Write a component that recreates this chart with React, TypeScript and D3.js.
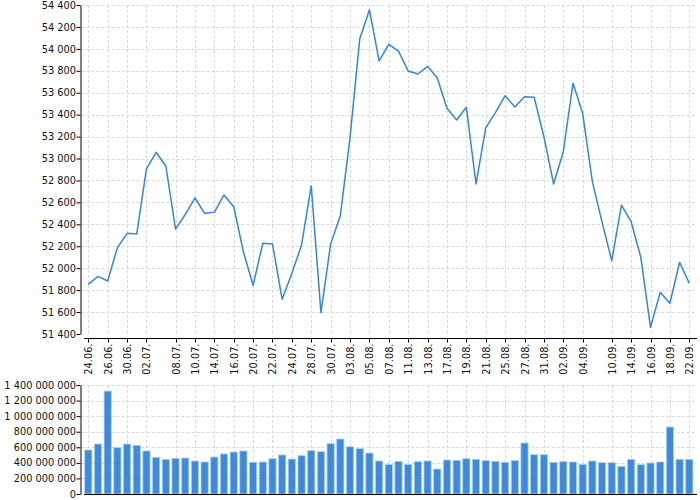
import React, { useEffect, useRef } from 'react';
import * as d3 from 'd3';

// trading days (only some of them are labelled on the axis)
const dates = [
  '24.06.', '25.06.', '26.06.', '28.06.', '30.06.', '01.07.', '02.07.', '04.07.', '06.07.', '08.07.',
  '09.07.', '10.07.', '12.07.', '14.07.', '15.07.', '16.07.', '18.07.', '20.07.', '21.07.', '22.07.',
  '23.07.', '24.07.', '26.07.', '28.07.', '29.07.', '30.07.', '01.08.', '03.08.', '04.08.', '05.08.',
  '06.08.', '07.08.', '09.08.', '11.08.', '12.08.', '13.08.', '15.08.', '17.08.', '18.08.', '19.08.',
  '20.08.', '21.08.', '23.08.', '25.08.', '26.08.', '27.08.', '29.08.', '31.08.', '01.09.', '02.09.',
  '03.09.', '04.09.', '06.09.', '08.09.', '10.09.', '12.09.', '14.09.', '15.09.', '16.09.', '17.09.',
  '18.09.', '20.09.', '22.09.',
];

const tickLabels = [
  '24.06.', '26.06.', '30.06.', '02.07.', '08.07.', '10.07.', '14.07.', '16.07.', '20.07.', '22.07.',
  '24.07.', '28.07.', '30.07.', '03.08.', '05.08.', '07.08.', '11.08.', '13.08.', '17.08.', '19.08.',
  '21.08.', '25.08.', '27.08.', '31.08.', '02.09.', '04.09.', '10.09.', '14.09.', '16.09.', '18.09.',
  '22.09.',
];

const prices = [
  51853, 51926, 51883, 52187, 52318, 52312, 52905, 53057, 52932, 52357,
  52490, 52640, 52500, 52510, 52668, 52561, 52150, 51844, 52227, 52221,
  51716, 51954, 52212, 52750, 51594, 52221, 52479, 53190, 54090, 54355,
  53890, 54042, 53980, 53798, 53771, 53841, 53734, 53458, 53351, 53467,
  52768, 53279, 53418, 53573, 53470, 53564, 53558, 53199, 52768, 53062,
  53686, 53412, 52790, 52420, 52068, 52576, 52424, 52099, 51461, 51780,
  51680, 52054, 51862,
];

const volumes = [
  565e6, 642e6, 1322e6, 595e6, 642e6, 625e6, 552e6, 471e6, 445e6, 458e6,
  462e6, 424e6, 411e6, 475e6, 514e6, 539e6, 552e6, 407e6, 411e6, 453e6,
  501e6, 449e6, 492e6, 556e6, 543e6, 646e6, 706e6, 607e6, 582e6, 526e6,
  424e6, 381e6, 420e6, 381e6, 415e6, 424e6, 321e6, 437e6, 432e6, 453e6,
  445e6, 428e6, 420e6, 407e6, 428e6, 655e6, 505e6, 505e6, 407e6, 415e6,
  411e6, 381e6, 424e6, 402e6, 402e6, 356e6, 445e6, 376e6, 398e6, 411e6,
  860e6, 445e6, 445e6,
];

const priceTicks = d3.range(51400, 54401, 200);
const volumeTicks = d3.range(0, 1400000001, 200000000);

const fmt = d3.formatLocale({ decimal: ',', thousands: '\u00a0', grouping: [3], currency: ['', ''] }).format(',d');

const App: React.FC = () => {
  const svgRef = useRef<SVGSVGElement>(null);

  useEffect(() => {
    if (!svgRef.current) return;
    const svg = d3.select(svgRef.current);
    svg.selectAll('*').remove();

    const left = 80.5;
    const gridRight = 695;
    const axisRight = 697;

    const x = d3.scalePoint<string>().domain(dates).range([88.3, 689.3]);
    const yTop = d3.scaleLinear().domain([51400, 54400]).range([334, 5]);
    const yBot = d3.scaleLinear().domain([0, 1400000000]).range([494, 385]);

    const font = '"DejaVu Sans", sans-serif';
    const gridColor = '#d9d9d9';
    const blue = '#3585d8';

    const grid = (g: any, y: d3.ScaleLinear<number, number>, ticks: number[]) => {
      const [y0, y1] = [y.range()[1], y.range()[0]];
      g.selectAll('line.h')
        .data(ticks.slice(1))
        .join('line')
        .attr('x1', left + 1).attr('x2', gridRight)
        .attr('y1', (d: number) => Math.round(y(d)) + 0.5)
        .attr('y2', (d: number) => Math.round(y(d)) + 0.5);
      g.selectAll('line.v')
        .data(tickLabels)
        .join('line')
        .attr('class', 'v')
        .attr('x1', (d: string) => Math.round(x(d)!) + 0.5)
        .attr('x2', (d: string) => Math.round(x(d)!) + 0.5)
        .attr('y1', y0).attr('y2', y1);
      g.selectAll('line')
        .attr('stroke', gridColor)
        .attr('stroke-dasharray', '3,2');
    };

    const yAxis = (g: any, y: d3.ScaleLinear<number, number>, ticks: number[]) => {
      g.attr('transform', `translate(${left},0)`)
        .call(d3.axisLeft(y).tickValues(ticks).tickFormat((d: any) => fmt(d)).tickSize(4).tickPadding(0.5).tickSizeOuter(0))
        .call((s: any) => s.selectAll('text').attr('fill', '#111'))
        .call((s: any) => s.selectAll('line, path').attr('stroke', '#000'))
        .attr('font-family', font)
        .attr('font-size', 9.8);
    };

    // ---- price chart
    const top = svg.append('g');
    grid(top.append('g'), yTop, priceTicks);

    const line = d3.line<number>()
      .x((_, i) => x(dates[i])!)
      .y(d => yTop(d));

    top.append('path')
      .datum(prices)
      .attr('fill', 'none')
      .attr('stroke', blue)
      .attr('stroke-width', 1.5)
      .attr('stroke-linejoin', 'round')
      .attr('d', line);

    yAxis(top.append('g'), yTop, priceTicks);

    const xAxisY = 338.5;
    const xg = top.append('g').attr('font-family', font).attr('font-size', 9.8);
    xg.append('line')
      .attr('x1', 84).attr('x2', axisRight)
      .attr('y1', xAxisY).attr('y2', xAxisY)
      .attr('stroke', '#000');
    const tick = xg.selectAll('g.tick')
      .data(tickLabels)
      .join('g')
      .attr('transform', d => `translate(${Math.round(x(d)!) + 0.5},${xAxisY})`);
    tick.append('line').attr('y2', 4).attr('stroke', '#000');
    tick.append('text')
      .attr('transform', 'translate(0,5) rotate(-90)')
      .attr('text-anchor', 'end')
      .attr('dy', '0.35em')
      .attr('fill', '#111')
      .text(d => d);

    // ---- volume chart
    const bot = svg.append('g');
    grid(bot.append('g'), yBot, volumeTicks);

    const barW = 7.2;
    bot.selectAll('rect')
      .data(volumes)
      .join('rect')
      .attr('x', (_, i) => x(dates[i])! - barW / 2)
      .attr('width', barW)
      .attr('y', d => yBot(d))
      .attr('height', d => yBot(0) - yBot(d))
      .attr('fill', blue)
      .attr('fill-opacity', 0.95)
      .attr('stroke', '#a9cdf2')
      .attr('stroke-width', 0.8);

    yAxis(bot.append('g'), yBot, volumeTicks);

    bot.append('line')
      .attr('x1', 84).attr('x2', axisRight)
      .attr('y1', 494.5).attr('y2', 494.5)
      .attr('stroke', '#000');
  }, []);

  return (
    <svg
      ref={svgRef}
      width={700}
      height={500}
      style={{ position: 'absolute', left: 0, top: 0, background: '#fff' }}
    />
  );
};

export default App;
